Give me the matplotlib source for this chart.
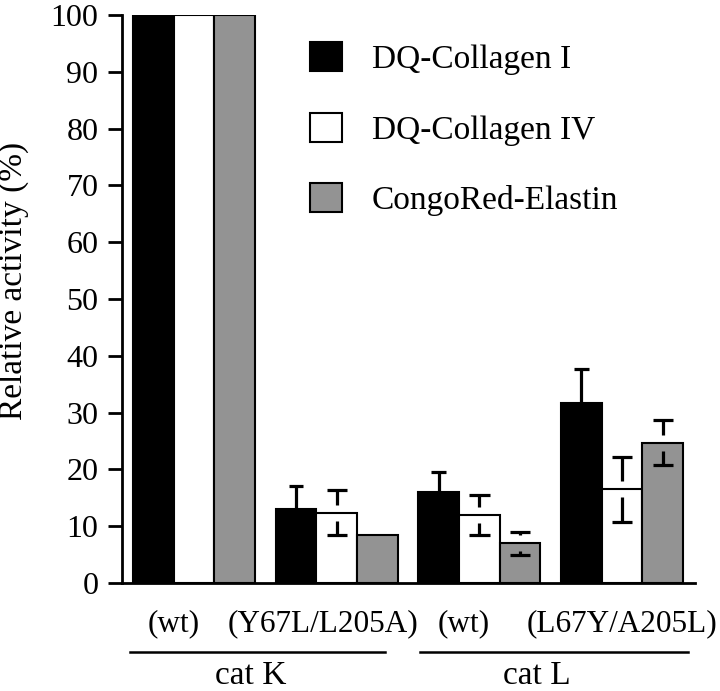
import numpy as np
import matplotlib
matplotlib.use("Agg")
import matplotlib.pyplot as plt
import matplotlib.transforms as mtransforms

plt.rcParams['font.family'] = ['Liberation Serif', 'DejaVu Serif']

# ---- data ----
groups = ["(wt)", "(Y67L/L205A)", "(wt)", "(L67Y/A205L)"]
enzymes = ["cat K", "cat L"]
series = ["DQ-Collagen I", "DQ-Collagen IV", "CongoRed-Elastin"]
collagen1 = [100, 13.1, 16.1, 31.7]
collagen1_err = [0, 3.9, 3.5, 5.9]
collagen4 = [100, 12.4, 12.0, 16.5]
collagen4_err = [0, 4.0, 3.5, 5.7]
elastin = [100, 8.5, 7.0, 24.7]
elastin_err = [0, 0, 2.0, 4.0]

values = [collagen1, collagen4, elastin]
errors = [collagen1_err, collagen4_err, elastin_err]
colors = ["#000000", "#ffffff", "#939393"]
cap_half = [0.18, 0.25, 0.25]     # half cap width in bar units
stem_gap = [0.0, 1.4, 1.4]        # gap between bar top and whisker start

fig = plt.figure(figsize=(7.2, 6.91), dpi=100)
ax = fig.add_axes([122/720, 1-583/691, (695-122)/720, (583-15)/691])

spacing = 3.506
centers = np.arange(len(groups)) * spacing
width = 1.0
offsets = [-1, 0, 1]

handles = []
for vals, errs, col, off, name, ch, gap in zip(values, errors, colors, offsets,
                                              series, cap_half, stem_gap):
    x = centers + off * width
    b = ax.bar(x, vals, width=width, color=col, edgecolor="black",
               linewidth=1.5, label=name, zorder=2)
    handles.append(b)
    vals = np.asarray(vals, dtype=float)
    errs = np.asarray(errs, dtype=float)
    m = errs > 0
    xm, vm, em = x[m], vals[m], errs[m]
    # upper whiskers
    ax.vlines(xm, vm + gap, vm + em, color="black", lw=2.3, zorder=3)
    ax.hlines(vm + em, xm - ch, xm + ch, color="black", lw=2.3, zorder=3)
    # lower whiskers (hidden inside black bars)
    ax.vlines(xm, vm - em, vm - gap, color="black", lw=2.3, zorder=3)
    ax.hlines(vm - em, xm - ch, xm + ch, color="black", lw=2.3, zorder=3)

ax.set_xlim(-1.77, 12.31)
ax.set_ylim(0, 100)
ax.set_yticks(np.arange(0, 101, 10))
ax.tick_params(axis="y", labelsize=23, length=10, width=2, pad=7, direction="out")
ax.set_xticks([])
for s in ["top", "right"]:
    ax.spines[s].set_visible(False)
ax.spines["left"].set_linewidth(2)
ax.spines["bottom"].set_linewidth(2)

fig.text(14/720, 1-281/691, "Relative activity (%)", rotation=90,
         ha="center", va="center", fontsize=24)

# group labels under the axis
trans = mtransforms.blended_transform_factory(ax.transData, ax.transAxes)
label_shift = [-0.5, -0.34, -0.39, 0.0]
for c, lab, sh in zip(centers, groups, label_shift):
    ax.text(c + sh, -0.072, lab, transform=trans, ha="center", va="center",
            fontsize=22.5, clip_on=False)

# enzyme underlines and labels
line_spans = [(centers[0] - 1.57, centers[1] + 1.19),
              (centers[2] - 1.45, centers[3] + 1.61)]
enz_x = [centers[0] + 1.38, centers[2] + 1.42]
for (x0, x1), ex, name in zip(line_spans, enz_x, enzymes):
    ax.plot([x0, x1], [-0.1215, -0.1215], transform=trans, color="black",
            lw=1.8, clip_on=False)
    ax.text(ex, -0.178, name, transform=trans, ha="center", va="baseline",
            fontsize=24, clip_on=False)

leg = ax.legend(handles=handles, labels=series, loc="upper left",
                bbox_to_anchor=(310/720, 1-42/691), bbox_transform=fig.transFigure,
                frameon=False, fontsize=24, handlelength=0.96, handleheight=0.96,
                handletextpad=0.9, labelspacing=1.13, borderpad=0, borderaxespad=0)

fig.savefig("out.png", dpi=100)
